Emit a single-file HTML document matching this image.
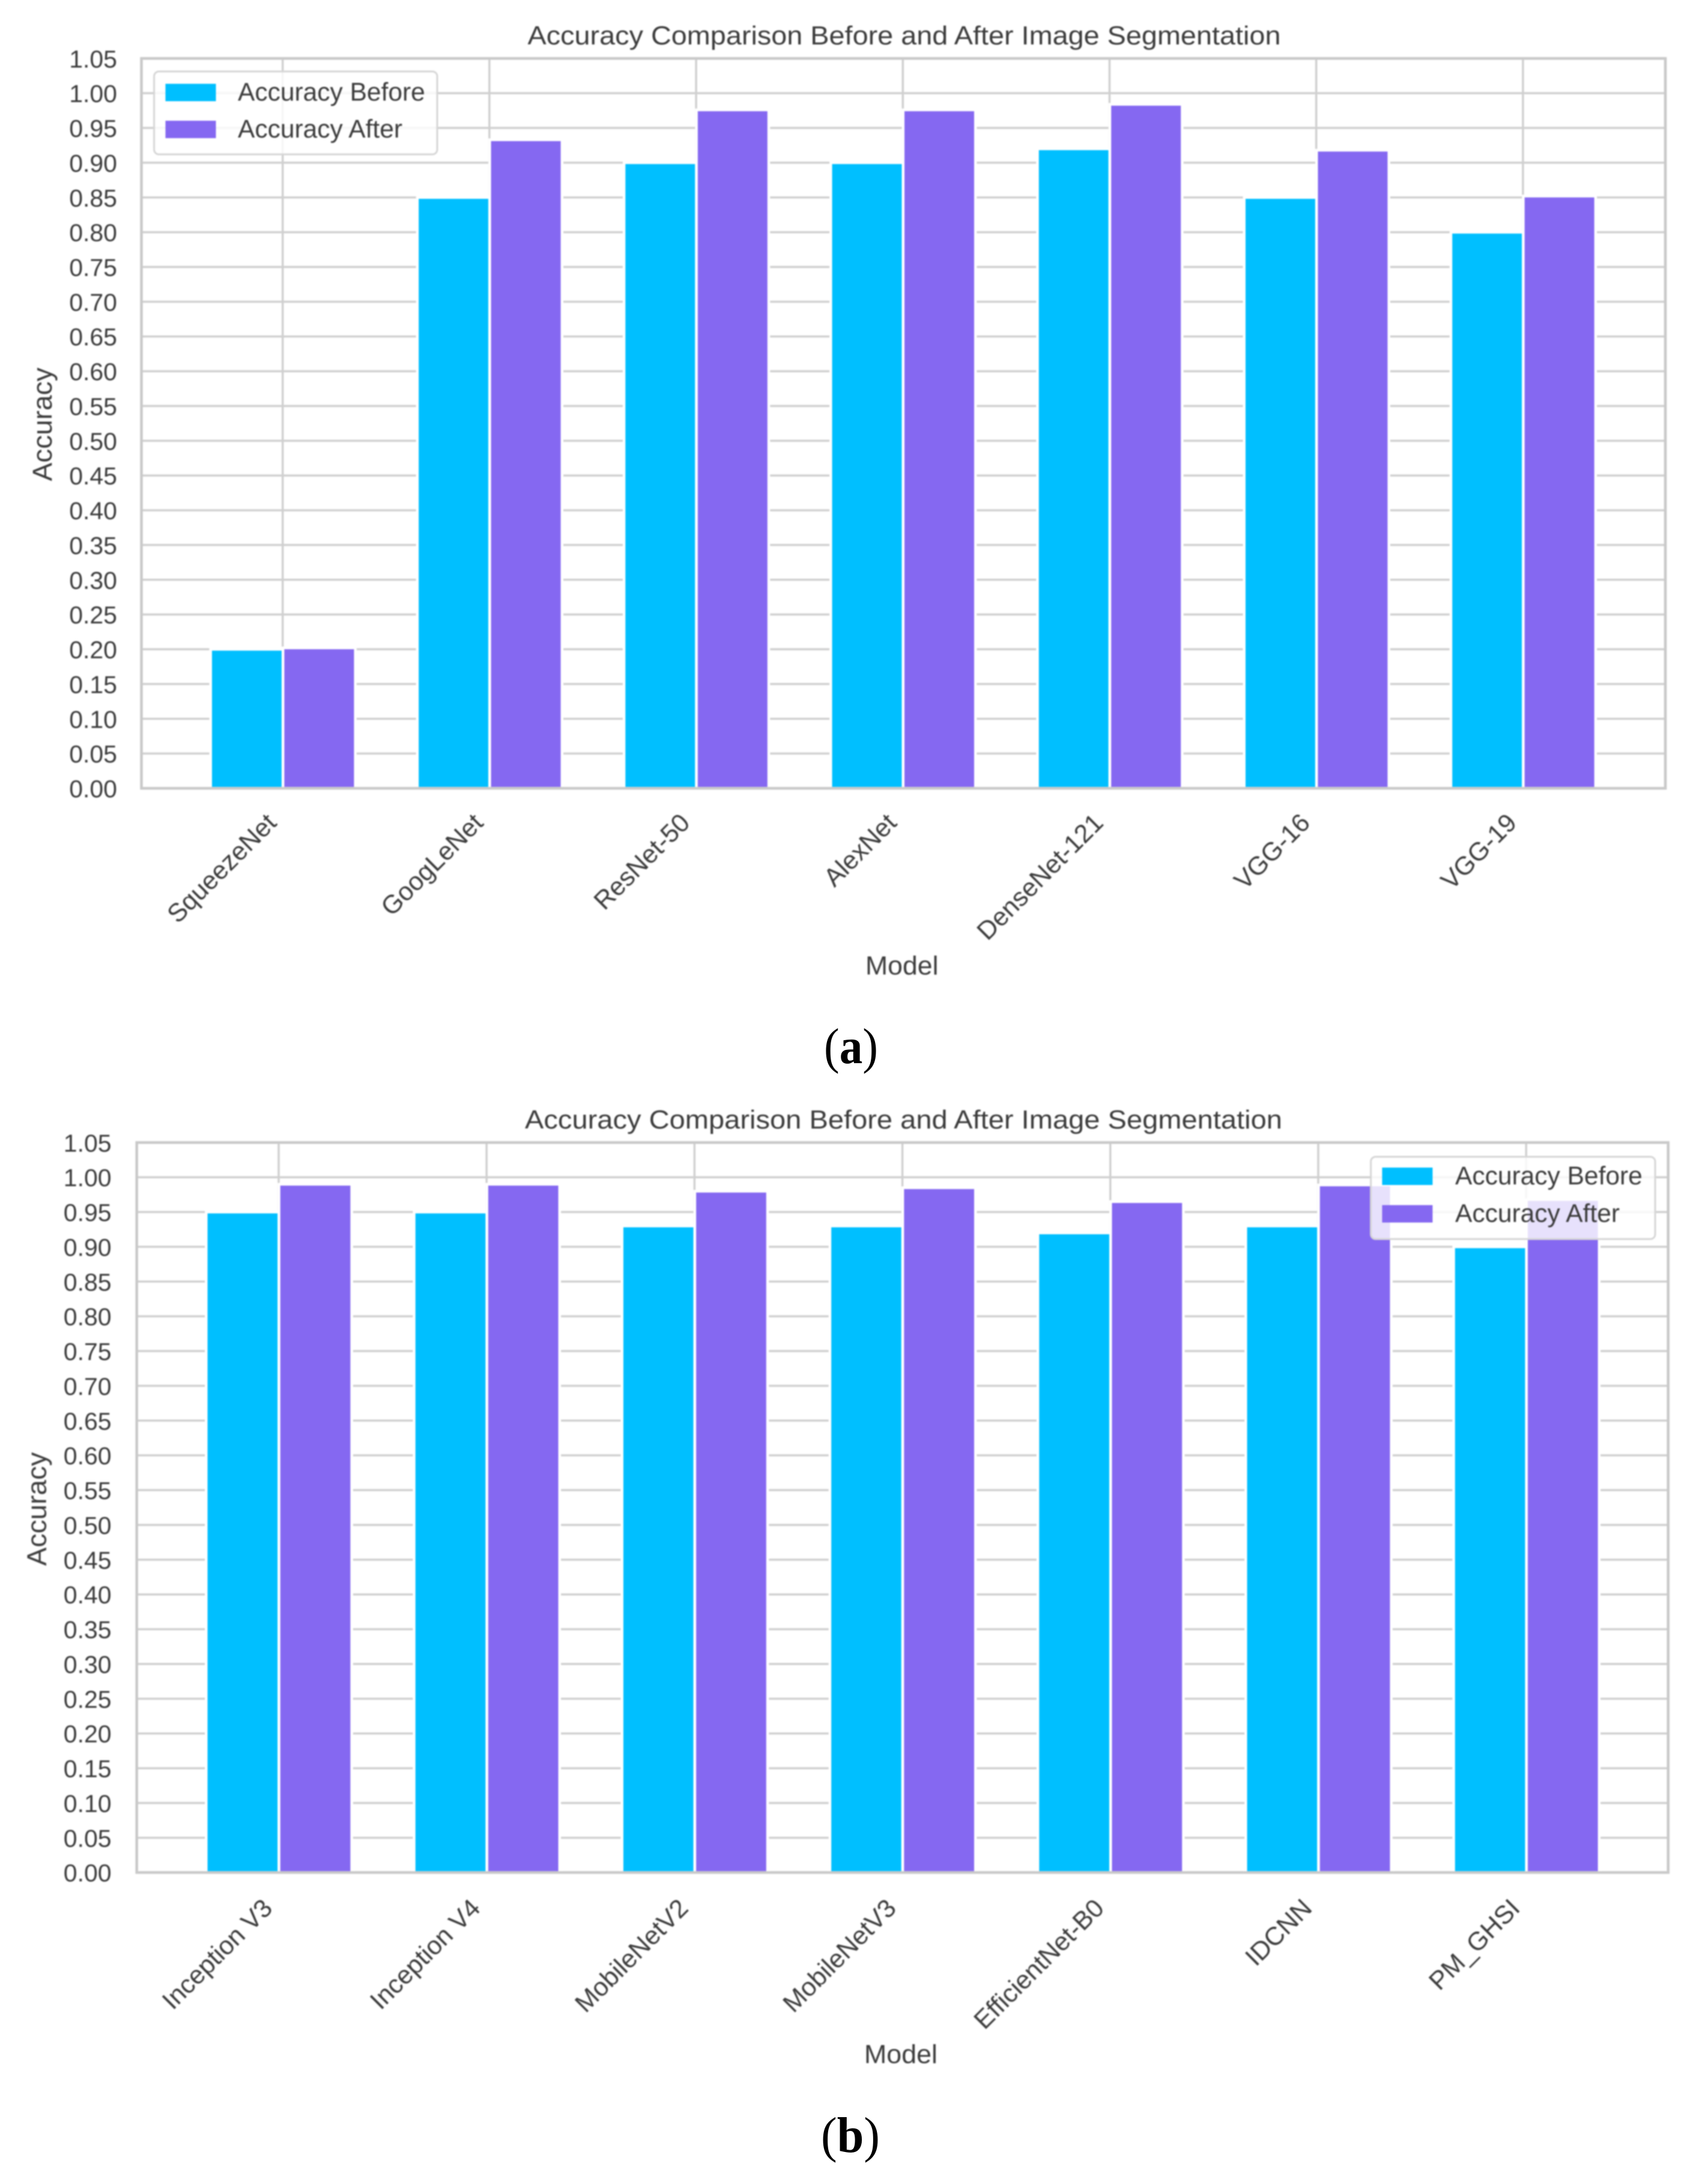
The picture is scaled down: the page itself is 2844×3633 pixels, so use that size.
<!DOCTYPE html>
<html lang="en">
<head>
<meta charset="utf-8">
<title>Accuracy Comparison Before and After Image Segmentation</title>
<style>
  html, body { margin: 0; padding: 0; background: #fff; width: 2844px; height: 3633px; overflow: hidden; }
  svg { display: block; }
  text { font-family: "Liberation Sans", Arial, sans-serif; fill: #3c3c3c; }
  .caption text, text.caption { font-family: "Liberation Serif", "Times New Roman", serif; fill: #000; }
  #plots { filter: blur(1px); }
</style>
</head>
<body>
<svg id="figure" xmlns="http://www.w3.org/2000/svg" width="2844" height="3633" viewBox="0 0 2844 3633">
  <rect x="0" y="0" width="2844" height="3633" fill="#ffffff"/>
  <g id="plots"></g>
  <text class="caption" x="1372" y="1770" font-size="84" textLength="90" lengthAdjust="spacingAndGlyphs">(<tspan font-weight="bold">a</tspan>)</text>
  <text class="caption" x="1367" y="3583" font-size="84" textLength="98" lengthAdjust="spacingAndGlyphs">(<tspan font-weight="bold">b</tspan>)</text>
</svg>
<script>
const yTickLabels = ['0.00','0.05','0.10','0.15','0.20','0.25','0.30','0.35','0.40','0.45','0.50','0.55','0.60','0.65','0.70','0.75','0.80','0.85','0.90','0.95','1.00','1.05'];

const categoriesA = ['SqueezeNet','GoogLeNet','ResNet-50','AlexNet','DenseNet-121','VGG-16','VGG-19'];
const beforeA = [0.20, 0.85, 0.90, 0.90, 0.92, 0.85, 0.80];
const afterA  = [0.202, 0.933, 0.976, 0.976, 0.984, 0.918, 0.852];

const categoriesB = ['Inception V3','Inception V4','MobileNetV2','MobileNetV3','EfficientNet-B0','IDCNN','PM_GHSI'];
const beforeB = [0.95, 0.95, 0.93, 0.93, 0.92, 0.93, 0.90];
const afterB  = [0.99, 0.99, 0.98, 0.985, 0.965, 0.989, 0.968];

const NS = 'http://www.w3.org/2000/svg';
const plots = document.getElementById('plots');
const BEFORE_COLOR = '#00bfff';
const AFTER_COLOR = '#8568f1';

function make(tag, parent) {
  const el = document.createElementNS(NS, tag);
  parent.appendChild(el);
  return el;
}

function setAll(el, props) {
  for (const k in props) el.setAttribute(k, props[k]);
}

function drawChart(cfg) {
  const g = make('g', plots);
  
  

  const yMax = parseFloat(yTickLabels[yTickLabels.length - 1]);
  const y = v => cfg.bottom - (v / yMax) * (cfg.bottom - cfg.top);
  const x = i => cfg.firstTick + i * cfg.tickStep;
  const barW = cfg.tickStep * 0.35;

  // horizontal grid + y tick labels
  yTickLabels.forEach(label => {
    const v = parseFloat(label);
    if (v > 0 && v < yMax) {
      const line = make('line', g);
      
      
      setAll(line, { x1: cfg.left, x2: cfg.right, y1: y(v), y2: y(v), stroke: '#d0d0d0', 'stroke-width': 3.5 });
    }
    const t = make('text', g);
    
    
    setAll(t, { x: cfg.tickLabelRight, y: y(v) + 15, 'text-anchor': 'end', 'font-size': 41 });
    t.textContent = label;
  });

  // vertical grid
  cfg.categories.forEach((c, i) => {
    const line = make('line', g);
    
    
    setAll(line, { x1: x(i), x2: x(i), y1: cfg.top, y2: cfg.bottom, stroke: '#d0d0d0', 'stroke-width': 3.5 });
  });

  // bars
  cfg.categories.forEach((c, i) => {
    const b = make('rect', g);
    
    
    setAll(b, { x: x(i) - barW + 0.5, y: y(cfg.before[i]), width: barW, height: cfg.bottom - y(cfg.before[i]), fill: BEFORE_COLOR, stroke: '#ffffff', 'stroke-width': 4.5 });

    const a = make('rect', g);
    
    
    setAll(a, { x: x(i) + 0.5, y: y(cfg.after[i]), width: barW, height: cfg.bottom - y(cfg.after[i]), fill: AFTER_COLOR, stroke: '#ffffff', 'stroke-width': 4.5 });
  });

  // frame
  const frame = make('rect', g);
  
  
  setAll(frame, { x: cfg.left, y: cfg.top, width: cfg.right - cfg.left, height: cfg.bottom - cfg.top, fill: 'none', stroke: '#c9c9c9', 'stroke-width': 4.5 });

  // x tick labels
  cfg.categories.forEach((c, i) => {
    const t = make('text', g);
    
    
    const ax = x(i) - 8;
    const ay = cfg.bottom + cfg.xLabelDrop;
    setAll(t, { x: ax, y: ay, 'text-anchor': 'end', 'font-size': 42.8, transform: `rotate(-45 ${ax} ${ay})` });
    t.textContent = c;
  });

  // title
  const title = make('text', g);
  
  
  setAll(title, { x: cfg.titleX, y: cfg.titleY, 'font-size': 44, textLength: cfg.titleW, lengthAdjust: 'spacingAndGlyphs' });
  title.textContent = 'Accuracy Comparison Before and After Image Segmentation';

  // axis titles
  const xt = make('text', g);
  
  
  setAll(xt, { x: cfg.modelX, y: cfg.modelY, 'font-size': 44, textLength: cfg.modelW, lengthAdjust: 'spacingAndGlyphs' });
  xt.textContent = 'Model';

  const yt = make('text', g);
  
  
  setAll(yt, { x: cfg.accX, y: cfg.accY, 'font-size': 45, textLength: 189, lengthAdjust: 'spacingAndGlyphs', transform: `rotate(-90 ${cfg.accX} ${cfg.accY})` });
  yt.textContent = 'Accuracy';

  // legend
  const lg = make('g', g);
  
  
  const L = cfg.legend;
  const box = make('rect', lg);
  
  
  setAll(box, { x: L.x, y: L.y, width: L.w, height: L.h, rx: 8, fill: '#ffffff', 'fill-opacity': 0.8, stroke: '#d6d6d6', 'stroke-width': 3 });

  const s1 = make('rect', lg);
  
  
  setAll(s1, { x: L.swatchX, y: L.row1, width: 84, height: 29, fill: BEFORE_COLOR });

  const t1 = make('text', lg);
  
  
  setAll(t1, { x: L.textX, y: L.row1 + 28, 'font-size': 42.5 });
  t1.textContent = 'Accuracy Before';

  const s2 = make('rect', lg);
  
  
  setAll(s2, { x: L.swatchX, y: L.row2, width: 84, height: 29, fill: AFTER_COLOR });

  const t2 = make('text', lg);
  
  
  setAll(t2, { x: L.textX, y: L.row2 + 28, 'font-size': 42.5 });
  t2.textContent = 'Accuracy After';
}

drawChart({
  name: 'chart-a',
  categories: categoriesA, before: beforeA, after: afterA,
  left: 235.5, right: 2773, top: 97.3, bottom: 1312.5,
  firstTick: 470.7, tickStep: 344.2,
  tickLabelRight: 195, xLabelDrop: 60,
  titleX: 878.5, titleY: 74, titleW: 1254,
  modelX: 1441, modelY: 1622.7, modelW: 121.5,
  accX: 86, accY: 801,
  legend: { x: 256.6, y: 119, w: 471.4, h: 138, swatchX: 275.5, textX: 396, row1: 139.5, row2: 201 }
});

drawChart({
  name: 'chart-b',
  categories: categoriesB, before: beforeB, after: afterB,
  left: 227.7, right: 2777.7, top: 1902.3, bottom: 3117.7,
  firstTick: 464, tickStep: 346.2,
  tickLabelRight: 185.6, xLabelDrop: 62,
  titleX: 874, titleY: 1879, titleW: 1261,
  modelX: 1439, modelY: 3435, modelW: 122,
  accX: 76.7, accY: 2607,
  legend: { x: 2282.6, y: 1926, w: 473.4, h: 137, swatchX: 2301.4, textX: 2423, row1: 1944, row2: 2006.5 }
});
</script>
</body>
</html>
